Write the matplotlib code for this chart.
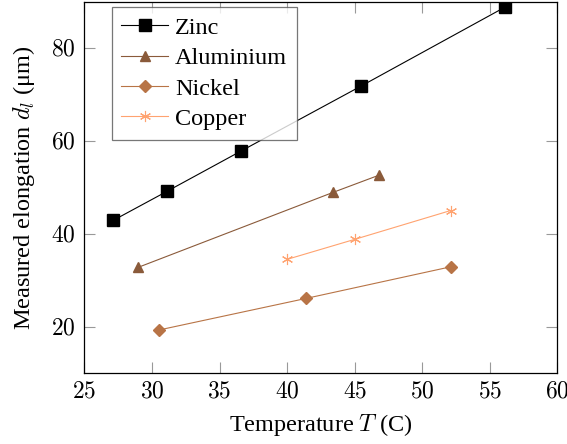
import matplotlib
matplotlib.use("Agg")
import matplotlib.pyplot as plt
from matplotlib.ticker import FuncFormatter

plt.rcParams['font.family'] = ['Liberation Serif', 'DejaVu Serif']
plt.rcParams['mathtext.fontset'] = 'cm'

# Data
zinc_T = [27.15, 31.1, 36.6, 45.5, 56.1]
zinc_d = [42.9, 49.1, 57.8, 71.8, 88.7]
alu_T = [29.0, 43.4, 46.8]
alu_d = [32.8, 48.9, 52.6]
nickel_T = [30.5, 41.4, 52.1]
nickel_d = [19.3, 26.1, 32.9]
copper_T = [40.0, 45.0, 52.1]
copper_d = [34.5, 38.8, 45.0]

xticks = [25, 30, 35, 40, 45, 50, 55, 60]
yticks = [20, 40, 60, 80]

fig = plt.figure(figsize=(5.67, 4.44), dpi=100)
ax = fig.add_axes([0.1487, 0.1592, 0.8345, 0.8370])

ax.plot(zinc_T, zinc_d, color='black', lw=0.8, marker='s', ms=8, label='Zinc')
ax.plot(alu_T, alu_d, color='#8a5a3a', lw=0.8, marker='^', ms=7.5, label='Aluminium')
ax.plot(nickel_T, nickel_d, color='#b87446', lw=0.8, marker='D', ms=6, label='Nickel')
ax.plot(copper_T, copper_d, color='#ffa370', lw=0.8, marker=(6, 2, 0), ms=8, mew=0.8, label='Copper')

ax.set_xlim(25, 60)
ax.set_ylim(10, 89.9)
ax.set_xticks(xticks)
ax.set_yticks(yticks)
fmt = FuncFormatter(lambda v, p: r'$%d$' % v)
ax.xaxis.set_major_formatter(fmt)
ax.yaxis.set_major_formatter(fmt)
ax.tick_params(direction='in', length=8, width=0.8, color='#999999', labelsize=17,
               top=True, right=True, pad=6)
for s in ax.spines.values():
    s.set_linewidth(0.9)
    s.set_color('black')

ax.set_xlabel(r'Temperature $T$ (C)', fontsize=17.5, labelpad=7)
ax.set_ylabel('Measured elongation $d_l$ (\u03bcm)', fontsize=17.5, labelpad=10)

leg = ax.legend(loc='upper left', bbox_to_anchor=(0.058, 0.985), borderaxespad=0,
                prop={'family': 'Liberation Serif', 'size': 17.5},
                frameon=True, fancybox=False, edgecolor='#555555',
                handlelength=1.9, handletextpad=0.3, labelspacing=0.34, borderpad=0.4)
leg.get_frame().set_linewidth(0.9)

fig.savefig('out.png', dpi=100)
